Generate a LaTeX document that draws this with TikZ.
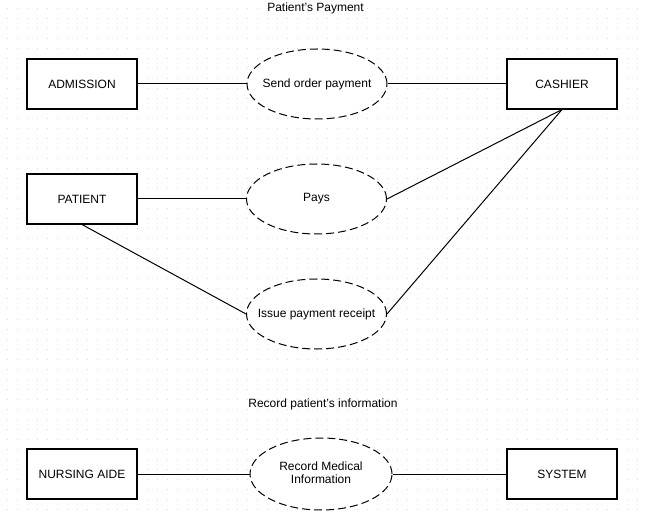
\documentclass[tikz,border=0pt]{standalone}
\usepackage{fontspec}
\setmainfont{Liberation Sans}
\usetikzlibrary{shapes.geometric}
\begin{document}
\begin{tikzpicture}[x=0.75pt,y=-0.75pt,
  every node/.style={font=\fontsize{9pt}{10pt}\selectfont},
  entity/.style={draw=black,line width=0.8pt,minimum width=82.5pt,minimum height=37.5pt,inner sep=0pt,fill=white},
  usecase/.style={ellipse,draw=black,line width=0.75pt,dash pattern=on 6pt off 3pt,minimum width=105pt,minimum height=52.5pt,inner sep=0pt,fill=white},
  conn/.style={draw=black,line width=0.75pt},
  titletext/.style={inner sep=0pt}]
\useasboundingbox (0,0) rectangle (646,513);
\fill[white] (0,0) rectangle (646,513);
% dotted grid
\foreach \i in {0,...,64}{
  \foreach \j in {0,...,50}{
    \fill[black!15] ({7+10*\i-0.5},{9+10*\j-0.5}) rectangle ++(1,1);
  }
}
% titles
\node[titletext] (t1) at (315.5,8) {Patient's Payment};
\node[titletext] (t2) at (323,404) {Record patient's information};
% nodes
\node[entity] (adm) at (82,84) {ADMISSION};
\node[entity] (cash) at (562,84) {CASHIER};
\node[usecase] (send) at (317,84) {\makebox[0pt]{Send order payment}};
\node[entity] (pat) at (82,199) {PATIENT};
\node[usecase] (pays) at (316.5,199) {\makebox[0pt]{Pays}};
\node[usecase] (rec) at (316.5,314) {\makebox[0pt]{Issue payment receipt}};
\node[entity] (nurse) at (82,474) {NURSING AIDE};
\node[usecase,minimum width=106.5pt,minimum height=54pt] (med) at (321,474) {\makebox[0pt]{\begin{tabular}{@{}c@{}}Record Medical\\Information\end{tabular}}};
\node[entity] (sys) at (562,474) {SYSTEM};
% connectors
\draw[conn] (adm.east) -- (send.west);
\draw[conn] (send.east) -- (cash.west);
\draw[conn] (pat.east) -- (pays.west);
\draw[conn] (cash.south) -- (pays.east);
\draw[conn] (cash.south) -- (rec.east);
\draw[conn] (pat.south) -- (rec.west);
\draw[conn] (nurse.east) -- (med.west);
\draw[conn] (med.east) -- (sys.west);
\end{tikzpicture}
\end{document}
